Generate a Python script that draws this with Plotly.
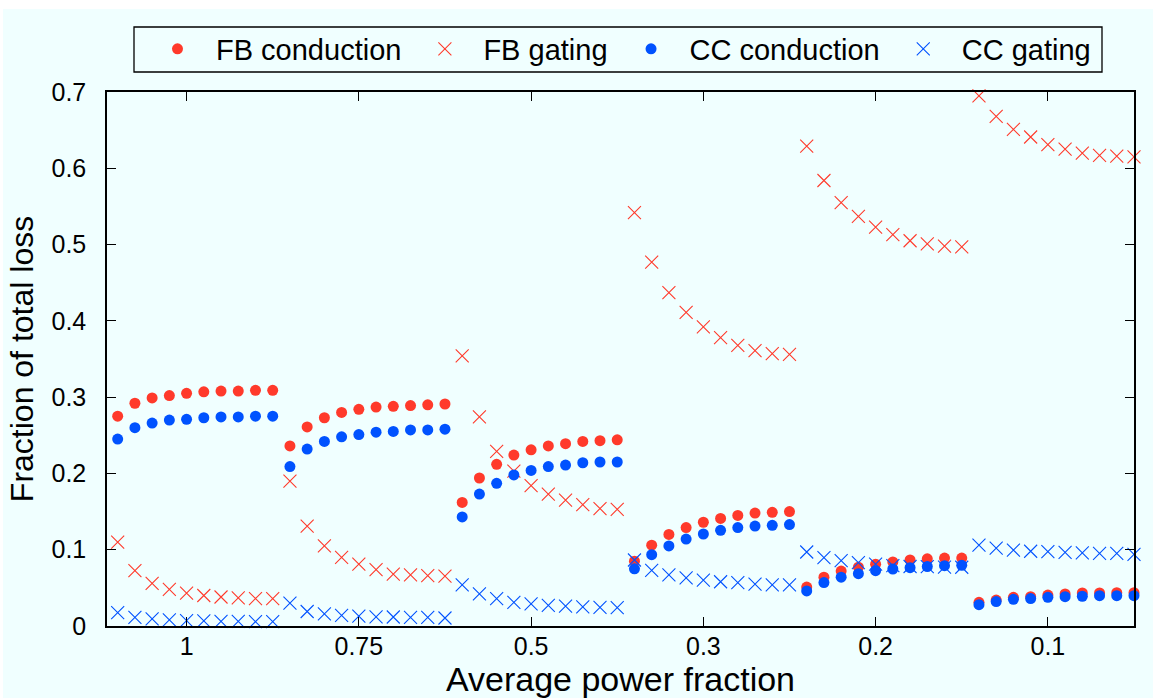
import plotly.graph_objects as go

# x positions: 6 groups of 10 operating points
x_index = list(range(1, 61))
tick_positions = [5, 15, 25, 35, 45, 55]
tick_labels = ["1", "0.75", "0.5", "0.3", "0.2", "0.1"]

fb_conduction = [
    0.275, 0.292, 0.299, 0.302, 0.305, 0.307, 0.308, 0.308, 0.309, 0.309,
    0.236, 0.261, 0.273, 0.280, 0.284, 0.287, 0.288, 0.289, 0.290, 0.291,
    0.162, 0.194, 0.212, 0.224, 0.231, 0.236, 0.239, 0.242, 0.243, 0.244,
    0.085, 0.106, 0.120, 0.129, 0.136, 0.141, 0.145, 0.148, 0.149, 0.150,
    0.051, 0.064, 0.072, 0.077, 0.081, 0.084, 0.0865, 0.088, 0.089, 0.089,
    0.031, 0.034, 0.0376, 0.0385, 0.0406, 0.042, 0.0433, 0.0433, 0.0437, 0.0437,
]
fb_gating = [
    0.110, 0.0725, 0.056, 0.048, 0.043, 0.040, 0.038, 0.037, 0.036, 0.036,
    0.190, 0.131, 0.105, 0.090, 0.081, 0.074, 0.068, 0.067, 0.066, 0.0655,
    0.354, 0.274, 0.229, 0.203, 0.184, 0.173, 0.165, 0.159, 0.154, 0.153,
    0.542, 0.477, 0.437, 0.411, 0.392, 0.378, 0.368, 0.361, 0.357, 0.356,
    0.629, 0.584, 0.555, 0.537, 0.523, 0.513, 0.505, 0.501, 0.498, 0.497,
    0.695, 0.668, 0.651, 0.641, 0.631, 0.625, 0.620, 0.617, 0.616, 0.615,
]
cc_conduction = [
    0.245, 0.260, 0.266, 0.270, 0.271, 0.273, 0.274, 0.274, 0.275, 0.275,
    0.209, 0.232, 0.242, 0.248, 0.251, 0.254, 0.255, 0.257, 0.257, 0.258,
    0.143, 0.173, 0.187, 0.198, 0.204, 0.209, 0.211, 0.214, 0.215, 0.215,
    0.075, 0.0935, 0.105, 0.114, 0.1206, 0.1254, 0.129, 0.131, 0.132, 0.133,
    0.046, 0.057, 0.064, 0.0686, 0.0725, 0.0747, 0.0765, 0.078, 0.079, 0.0795,
    0.028, 0.032, 0.035, 0.036, 0.0376, 0.0385, 0.039, 0.0397, 0.0397, 0.0397,
]
cc_gating = [
    0.0175, 0.0114, 0.0092, 0.0079, 0.007, 0.0066, 0.0062, 0.0062, 0.0057, 0.0057,
    0.030, 0.019, 0.016, 0.014, 0.013, 0.012, 0.0118, 0.0114, 0.0114, 0.0105,
    0.054, 0.042, 0.036, 0.031, 0.029, 0.027, 0.026, 0.025, 0.0245, 0.024,
    0.0865, 0.073, 0.067, 0.063, 0.060, 0.058, 0.057, 0.055, 0.054, 0.054,
    0.097, 0.0895, 0.0856, 0.083, 0.081, 0.079, 0.078, 0.0778, 0.0773, 0.077,
    0.106, 0.102, 0.0996, 0.098, 0.0974, 0.0966, 0.096, 0.0953, 0.0953, 0.094,
]

RED = "#FF3A2B"
BLUE = "#0052FF"
FONT = "Liberation Sans, Arial, sans-serif"
BG = "#F0FFFF"

fig = go.Figure()
fig.add_trace(go.Scatter(x=x_index, y=fb_conduction, mode="markers", name="FB conduction",
                         marker=dict(symbol="circle", size=11, color=RED, line=dict(width=0)),
                         cliponaxis=False))
fig.add_trace(go.Scatter(x=x_index, y=fb_gating, mode="markers", name="FB gating",
                         marker=dict(symbol="x-thin-open", size=13, color=RED, line=dict(width=1.1, color=RED)),
                         cliponaxis=False))
fig.add_trace(go.Scatter(x=x_index, y=cc_conduction, mode="markers", name="CC conduction",
                         marker=dict(symbol="circle", size=11, color=BLUE, line=dict(width=0)),
                         cliponaxis=False))
fig.add_trace(go.Scatter(x=x_index, y=cc_gating, mode="markers", name="CC gating",
                         marker=dict(symbol="x-thin-open", size=13, color=BLUE, line=dict(width=1.1, color=BLUE)),
                         cliponaxis=False))

W, H = 1153, 698
L, R, T, B = 107, 19, 92, 72
pw, ph = W - L - R, H - T - B


def px_x(p):
    return (p - L) / pw


def px_y(p):
    return 1 - (p - T) / ph


fig.update_layout(
    width=W, height=H,
    margin=dict(l=L, r=R, t=T, b=B, autoexpand=False),
    paper_bgcolor=BG, plot_bgcolor=BG,
    font=dict(family=FONT, color="black"),
    showlegend=True,
    legend=dict(
        orientation="h",
        x=px_x(139), xanchor="left",
        y=px_y(49), yanchor="middle",
        bgcolor="rgba(0,0,0,0)", borderwidth=0,
        font=dict(size=29, family=FONT),
        itemwidth=67,
        itemsizing="trace",
    ),
    xaxis=dict(
        range=[0.38, 60], tickmode="array", tickvals=tick_positions, ticktext=tick_labels,
        showgrid=False, zeroline=False, showline=True, linecolor="black", linewidth=1.5,
        mirror="ticks", ticks="inside", ticklen=9, tickcolor="black", tickwidth=1,
        tickfont=dict(size=25, family=FONT), ticklabelstandoff=-3,
        title=dict(text="Average power fraction", font=dict(size=34, family=FONT), standoff=8),
    ),
    yaxis=dict(
        range=[0, 0.7], tickmode="array", tickvals=[0, 0.1, 0.2, 0.3, 0.4, 0.5, 0.6, 0.7],
        ticktext=["0", "0.1", "0.2", "0.3", "0.4", "0.5", "0.6", "0.7"],
        showgrid=False, zeroline=False, showline=True, linecolor="black", linewidth=1.5,
        mirror="ticks", ticks="inside", ticklen=9, tickcolor="black", tickwidth=1,
        tickfont=dict(size=25, family=FONT), ticklabelstandoff=14,
        title=dict(text="Fraction of total loss", font=dict(size=32, family=FONT), standoff=8),
    ),
    shapes=[
        dict(type="rect", xref="paper", yref="paper",
             x0=px_x(0), x1=px_x(W), y0=px_y(9), y1=px_y(0),
             fillcolor="white", line=dict(width=0), layer="below"),
        dict(type="rect", xref="paper", yref="paper",
             x0=px_x(0), x1=px_x(3), y0=px_y(H), y1=px_y(0),
             fillcolor="white", line=dict(width=0), layer="below"),
        dict(type="rect", xref="paper", yref="paper",
             x0=px_x(134), x1=px_x(1102), y0=px_y(72), y1=px_y(27),
             fillcolor="rgba(0,0,0,0)", line=dict(width=1.3, color="black"), layer="above"),
    ],
)

fig.write_html("out.html")
